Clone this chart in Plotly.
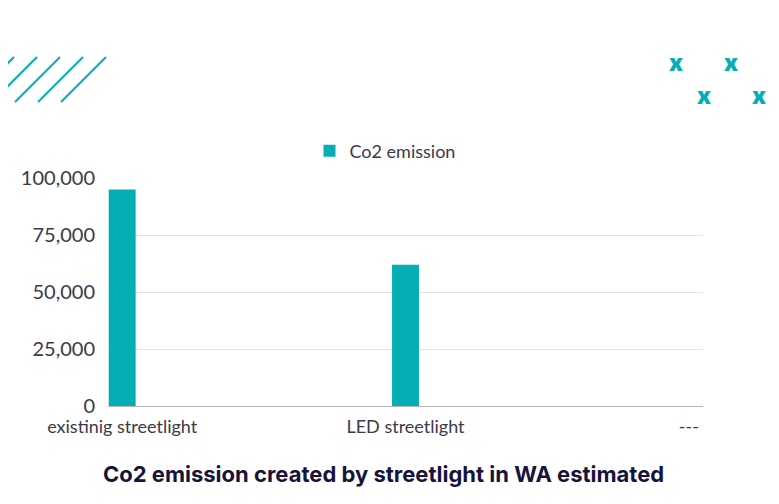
import plotly.graph_objects as go

categories = ["existinig streetlight", "LED streetlight", "---"]
co2_values = [95000, 62000, None]
series_name = "Co2 emission"
title_text = "Co2 emission created by streetlight in WA estimated"

TEAL = "#05adb5"
OFF = 8  # page body margin
W, H = 779 - OFF, 504 - OFF
# plot area in screen pixels: x 108..703, y 178..406
L, R, T, B = 108 - OFF, W - (703 - OFF), 178 - OFF, H - (406 - OFF)
PW, PH = W - L - R, H - T - B

def px(x):
    return (x - OFF - L) / PW

def py(y):
    return (H - B - (y - OFF)) / PH

fig = go.Figure()
fig.add_trace(go.Bar(
    x=categories, y=co2_values, name=series_name,
    marker=dict(color=TEAL, line=dict(width=0)),
    width=0.095, showlegend=True,
))

shapes = []
for top_x in [14, 37, 60, 83, 106]:
    shapes.append(dict(type="line", xref="paper", yref="paper",
                       x0=px(top_x - 45), y0=py(102), x1=px(top_x), y1=py(57),
                       line=dict(color=TEAL, width=2)))

annotations = []
for (ax, ay) in [(676, 63), (731, 63), (704, 96), (759, 96)]:
    annotations.append(dict(text="x", xref="paper", yref="paper",
                            x=px(ax), y=py(ay), xanchor="center", yanchor="middle",
                            showarrow=False,
                            font=dict(family="Inter", size=23, color=TEAL, weight=900)))
annotations.append(dict(text="<b>" + title_text + "</b>", xref="paper", yref="paper",
                        x=px(383), y=py(474), xanchor="center", yanchor="middle",
                        showarrow=False,
                        font=dict(family="Inter", size=22, color="#16143a")))

fig.update_layout(
    width=W, height=H,
    margin=dict(l=L, r=R, t=T, b=B, pad=0),
    paper_bgcolor="white", plot_bgcolor="white",
    shapes=shapes, annotations=annotations,
    showlegend=True,
    legend=dict(orientation="h", x=px(385), xanchor="center", y=py(151), yanchor="middle",
                font=dict(family="Lato", size=18, color="#3a3a4a"),
                itemwidth=30, bgcolor="rgba(0,0,0,0)"),
    font=dict(family="Lato", color="#3a3a4a"),
)
fig.update_xaxes(range=[-0.05, 2.05], showgrid=False, showline=True,
                 linecolor="#b8b8b8", linewidth=1,
                 tickfont=dict(family="Lato", size=18, color="#3a3a4a"),
                 ticks="", ticklabelstandoff=4)
fig.update_yaxes(range=[0, 100000], tickvals=[0, 25000, 50000, 75000, 100000],
                 tickformat=",d", showgrid=True, gridcolor="#e3e3e3", gridwidth=1,
                 zeroline=False, showline=False,
                 tickfont=dict(family="Lato", size=20, color="#3a3a4a"),
                 ticks="", ticklabelstandoff=12)

fig.write_html("out.html")
